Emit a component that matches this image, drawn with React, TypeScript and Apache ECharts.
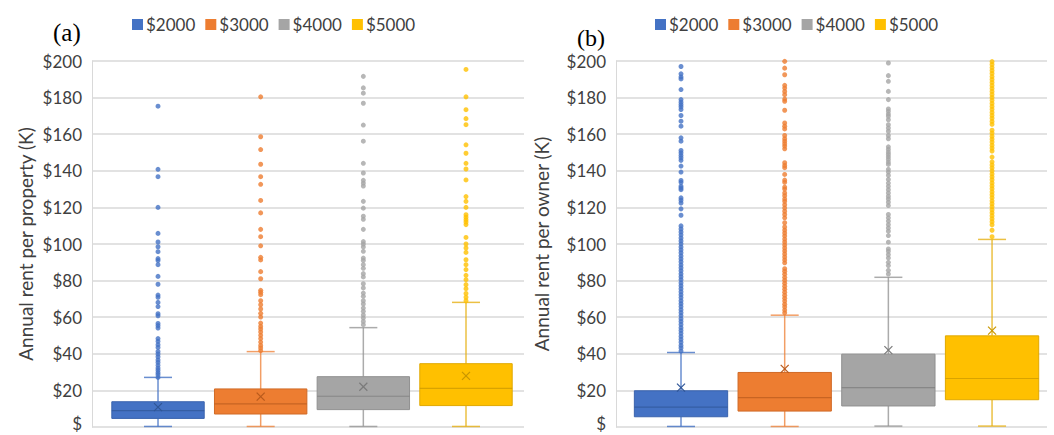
import React, { useEffect, useRef } from "react";
import * as echarts from "echarts";

const seriesNames = ["$2000", "$3000", "$4000", "$5000"];
const fillColors = ["#4472C4", "#ED7D31", "#A5A5A5", "#FFC000"];
const borderColors = ["#3A63AD", "#D06A26", "#909090", "#E0A800"];
const medianColors = ["#2F5597", "#B85A1C", "#7A7A7A", "#C99700"];
const whiskerColors = ["rgba(68,114,196,0.8)", "rgba(237,125,49,0.75)", "rgba(150,150,150,0.8)", "rgba(230,176,20,0.8)"];

// Panel (a): [min, q1, median, q3, max(whisker)]
const statsA = [
  [0.3, 4.7, 9.0, 13.8, 27.1],
  [0.3, 7.1, 12.6, 20.8, 41.2],
  [0.3, 9.5, 16.8, 27.5, 54.3],
  [0.3, 11.7, 21.1, 34.6, 68.1],
];
const meansA = [10.9, 16.6, 22.0, 27.9];

const outA2000 = [27.1, 28.6, 29.7, 31, 32.2, 33.7, 35.3, 36.6, 38.4, 39.9, 41.3, 43.5, 45, 46.8, 48.3, 54.1, 55.4, 56.6, 60.8, 61.9, 65.8, 68.1, 70.9, 72.1, 78, 82.3, 88.7, 91, 92, 95.8, 98.5, 101.1, 105.8, 120, 136.8, 140.8, 175.3];
const outA3000 = [41.7, 43.2, 44.6, 46.4, 48.3, 50.1, 51.9, 53.6, 55, 56.8, 60.1, 62.1, 64.5, 66.8, 69, 72.3, 73.6, 74.7, 81, 84.9, 91.3, 92.7, 99, 104, 108, 117, 123.8, 132.6, 136.8, 143.6, 151.6, 158.6, 180.4];
const outA4000 = [55.9, 57.7, 59.6, 61.2, 63.2, 65, 67.2, 69, 71.4, 73.2, 76, 78.3, 82, 83.8, 86.7, 88.7, 91, 92.3, 96, 98.4, 100, 101.3, 108, 113.5, 115.2, 119.6, 123.3, 131.7, 133.3, 134.8, 138.8, 144.1, 156.2, 165, 176.9, 182.4, 185.3, 191.6];
const outA5000 = [69, 70.9, 73, 75.6, 77.8, 80.5, 82.9, 86, 88.7, 91.4, 95.4, 97.8, 100, 103.6, 110.6, 112, 113.3, 114.6, 116, 120, 123.3, 125.9, 135, 141, 144.1, 149.6, 154.2, 165.2, 168.5, 173.4, 180.4, 195.4];

// Panel (b)
const statsB = [
  [0.3, 5.6, 10.9, 19.8, 40.7],
  [0.3, 8.7, 16.0, 29.8, 61.1],
  [0.5, 11.5, 21.5, 39.8, 81.8],
  [0.5, 14.9, 26.5, 49.8, 102.5],
];
const meansB = [21.5, 31.8, 42.0, 52.7];

const outB2000 = [41.5, 43.2, 44.6, 46.3, 47.9, 49.5, 51.2, 52.8, 54.3, 56, 57.7, 59.2, 60.9, 62.5, 64.1, 65.8, 67.4, 69, 70.7, 72.3, 73.9, 75.6, 77.2, 78.8, 80.5, 82.1, 83.7, 85.4, 87, 88.6, 90.3, 91.9, 93.5, 95.2, 96.8, 98.4, 100.1, 101.7, 103.3, 105, 106.6, 108.2, 109.9, 115.7, 119.2, 122.4, 123.9, 125.2, 129.7, 130.6, 131.6, 133.7, 134.7, 139.3, 142.6, 145.7, 147.1, 148.4, 149.8, 151.1, 156.2, 158, 164.4, 167.1, 170.2, 173.5, 175, 176.2, 177.5, 178.9, 184.4, 190.2, 191.3, 193, 197];
const outB3000 = [62.4, 63.9, 65.6, 67.1, 68.8, 70.4, 72, 73.7, 75.3, 76.9, 78.6, 80.2, 81.8, 83.5, 85.1, 86.5, 89.7, 91.3, 92.9, 94.6, 96.2, 97.8, 99.5, 101.1, 102.7, 104.4, 106, 107.6, 109.3, 111.6, 114.3, 116.1, 117.9, 119.7, 121.5, 123.3, 124.6, 126.4, 127.9, 130, 131.1, 133.7, 134.9, 138, 141.7, 142.9, 144.4, 152, 153.5, 154.8, 156.2, 157.5, 159.3, 162.9, 164.4, 166.1, 173.1, 178, 179.2, 181.6, 183.4, 185.2, 186.7, 192.5, 196.1, 199.8];
const outB4000 = [83.6, 85.6, 88.2, 90, 92.4, 94.2, 96, 97.3, 101, 104.6, 107, 108.8, 110.6, 112.5, 114.3, 116.1, 121, 122.8, 124.6, 126.1, 127.9, 129.7, 131.5, 133.3, 135.3, 137.5, 139.3, 140.8, 143.5, 144.7, 146.2, 147.6, 148.9, 150.2, 151.7, 153.1, 157.5, 159.3, 161.6, 163.4, 165.2, 167.9, 169.8, 171, 172.5, 173.8, 178.9, 183.4, 188.9, 192, 198.9];
const outB5000 = [104, 107.5, 110.5, 112.2, 113.8, 115.5, 117.1, 118.7, 120.4, 122, 123.6, 125.3, 126.9, 128.5, 130.2, 131.8, 133.4, 135.1, 136.7, 138.3, 140, 141.6, 143.2, 144.9, 147.5, 150.8, 152.4, 154, 155.7, 157.3, 158.9, 160.6, 162.2, 165.4, 167, 168.7, 170.3, 171.9, 173.6, 175.2, 176.8, 178.5, 180.1, 181.7, 183.4, 185, 186.6, 188.3, 189.9, 191.5, 193.2, 194.8, 196.4, 198.1, 199.7];

const outliersA = [outA2000, outA3000, outA4000, outA5000];
const outliersB = [outB2000, outB3000, outB4000, outB5000];

const FONT = "Lato, 'Open Sans', sans-serif";
const TEXT_COLOR = "#404040";
const GRID_COLOR = "#D9D9D9";

function makeRenderItem(k: number) {
  return (params: any, api: any) => {
    const x = api.value(0);
    const p = (v: number) => api.coord([x, v]);
    const [cx, yMin] = p(api.value(1));
    const yQ1 = p(api.value(2))[1];
    const yMed = p(api.value(3))[1];
    const yQ3 = p(api.value(4))[1];
    const yMax = p(api.value(5))[1];
    const yMean = p(api.value(6))[1];
    const bw = api.size([1, 0])[0] * 0.9;
    const hw = bw / 2;
    const cap = 14;
    const m = 4;
    const wStyle = { stroke: whiskerColors[k], lineWidth: 1.5 };
    const xStyle = { stroke: medianColors[k], lineWidth: 1.2 };
    return {
      type: "group",
      children: [
        { type: "line", shape: { x1: cx, y1: yMax, x2: cx, y2: yQ3 }, style: wStyle },
        { type: "line", shape: { x1: cx, y1: yQ1, x2: cx, y2: yMin }, style: wStyle },
        { type: "line", shape: { x1: cx - cap, y1: yMax, x2: cx + cap, y2: yMax }, style: wStyle },
        { type: "line", shape: { x1: cx - cap, y1: yMin, x2: cx + cap, y2: yMin }, style: wStyle },
        {
          type: "rect",
          shape: { x: cx - hw, y: yQ3, width: bw, height: yQ1 - yQ3 },
          style: { fill: fillColors[k], stroke: borderColors[k], lineWidth: 1 },
        },
        { type: "line", shape: { x1: cx - hw, y1: yMed, x2: cx + hw, y2: yMed }, style: { stroke: medianColors[k], lineWidth: 1.2, opacity: 0.7 } },
        { type: "line", shape: { x1: cx - m, y1: yMean - m, x2: cx + m, y2: yMean + m }, style: xStyle },
        { type: "line", shape: { x1: cx - m, y1: yMean + m, x2: cx + m, y2: yMean - m }, style: xStyle },
      ],
    };
  };
}

function panelSeries(gi: number, stats: number[][], means: number[], outliers: number[][]) {
  const out: any[] = [];
  stats.forEach((s, k) => {
    out.push({
      type: "custom",
      name: seriesNames[k],
      xAxisIndex: gi,
      yAxisIndex: gi,
      itemStyle: { color: fillColors[k] },
      encode: { x: 0, y: [1, 2, 3, 4, 5, 6] },
      renderItem: makeRenderItem(k),
      data: [[k, ...s, means[k]]],
      z: 2,
    });
  });
  outliers.forEach((arr, k) => {
    out.push({
      type: "scatter",
      name: seriesNames[k],
      xAxisIndex: gi,
      yAxisIndex: gi,
      symbol: "circle",
      symbolSize: 5,
      itemStyle: { color: fillColors[k] },
      data: arr.map((v) => [k, v]),
      z: 3,
    });
  });
  return out;
}

function yAxis(gi: number, name: string, nameGap: number) {
  return {
    type: "value",
    gridIndex: gi,
    min: 0,
    max: 200,
    interval: 20,
    name,
    nameLocation: "middle",
    nameGap,
    nameTextStyle: { fontFamily: FONT, fontSize: 19, color: TEXT_COLOR },
    axisLine: { show: true, onZero: false, lineStyle: { color: GRID_COLOR, width: 1 } },
    axisTick: { show: false },
    axisLabel: {
      fontFamily: FONT,
      fontSize: 17,
      lineHeight: 14,
      color: TEXT_COLOR,
      margin: 10,
      formatter: (v: number) => (v === 0 ? "{z|$}" : "$" + v),
      rich: {
        z: { fontFamily: FONT, fontSize: 17, lineHeight: 14, color: TEXT_COLOR, padding: [0, 0, 8, 0] },
      },
    },
    splitLine: { show: true, lineStyle: { color: GRID_COLOR, width: 1.5 } },
  };
}

function legend(left: number) {
  return {
    left,
    top: 16,
    padding: 0,
    icon: "rect",
    itemWidth: 11,
    itemHeight: 11,
    itemGap: 10,
    textStyle: { fontFamily: FONT, fontSize: 17, color: TEXT_COLOR, padding: [0, 0, 0, -2] },
    data: seriesNames.map((n, k) => ({ name: n, itemStyle: { color: fillColors[k] } })),
  };
}

export default function App() {
  const ref = useRef<HTMLDivElement>(null);
  useEffect(() => {
    if (!ref.current) return;
    const chart = echarts.init(ref.current, null, { renderer: "svg" });
    chart.setOption({
      animation: false,
      backgroundColor: "#FFFFFF",
      title: [
        { text: "(a)", left: 53, top: 20, padding: 0, textStyle: { fontFamily: "'Liberation Serif', serif", fontSize: 25, lineHeight: 25, fontWeight: "normal", color: "#000" } },
        { text: "(b)", left: 577, top: 26, padding: 0, textStyle: { fontFamily: "'Liberation Serif', serif", fontSize: 24, lineHeight: 24, fontWeight: "normal", color: "#000" } },
      ],
      legend: [legend(132), legend(655)],
      grid: [
        { left: 92, top: 61, width: 432, height: 366, outerBoundsMode: "none", containLabel: false },
        { left: 616, top: 61, width: 431, height: 366, outerBoundsMode: "none", containLabel: false },
      ],
      xAxis: [
        { type: "value", gridIndex: 0, min: -0.643, max: 3.565, show: false },
        { type: "value", gridIndex: 1, min: -0.627, max: 3.53, show: false },
      ],
      yAxis: [
        yAxis(0, "Annual rent per property (K)", 57),
        yAxis(1, "Annual rent per owner (K)", 65),
      ],
      series: [
        ...panelSeries(0, statsA, meansA, outliersA),
        ...panelSeries(1, statsB, meansB, outliersB),
      ],
    });
    return () => chart.dispose();
  }, []);
  return (
    <div
      ref={ref}
      style={{ position: "fixed", left: 0, top: 0, width: 1054, height: 435, background: "#fff" }}
    />
  );
}
